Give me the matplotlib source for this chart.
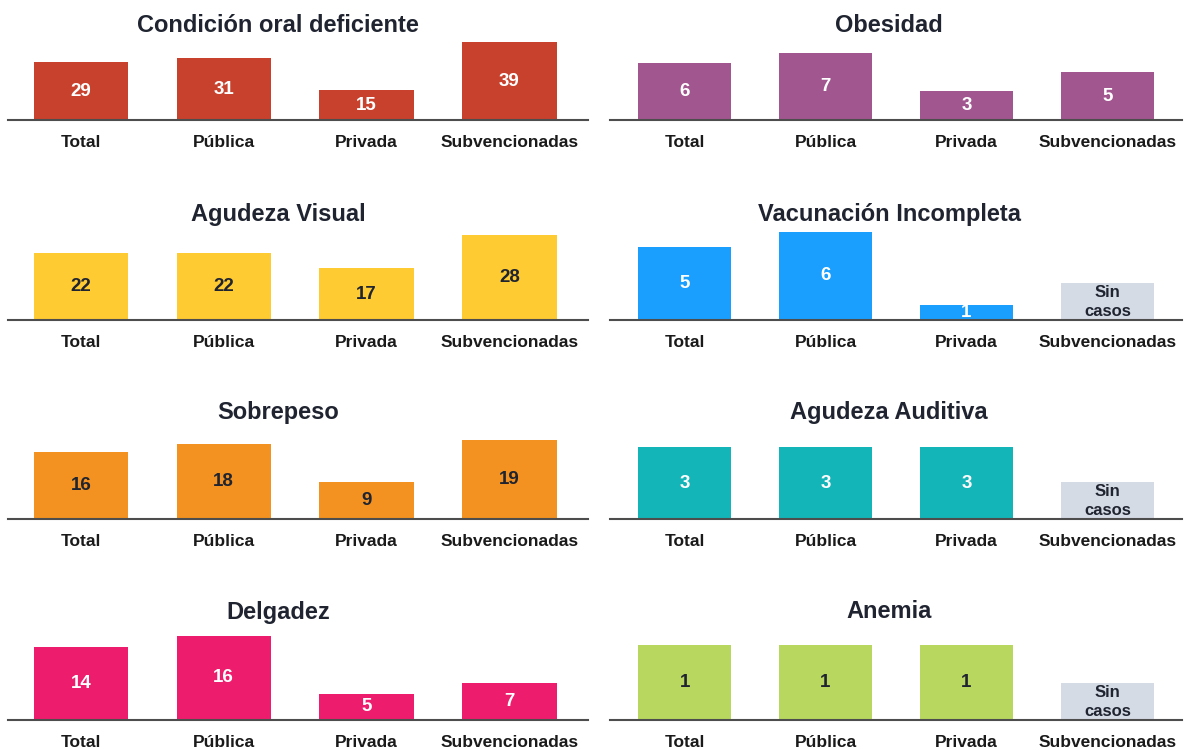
import matplotlib
matplotlib.use("Agg")
import matplotlib.pyplot as plt

plt.rcParams['font.family'] = ['Liberation Sans', 'DejaVu Sans']

# datos
categorias = ["Total", "Pública", "Privada", "Subvencionadas"]
titulos = ["Condición oral deficiente", "Obesidad",
           "Agudeza Visual", "Vacunación Incompleta",
           "Sobrepeso", "Agudeza Auditiva",
           "Delgadez", "Anemia"]
oral = [29, 31, 15, 39]
obesidad = [6, 7, 3, 5]
visual = [22, 22, 17, 28]
vacunacion = [5, 6, 1, None]
sobrepeso = [16, 18, 9, 19]
auditiva = [3, 3, 3, None]
delgadez = [14, 16, 5, 7]
anemia = [1, 1, 1, None]
series = [oral, obesidad, visual, vacunacion, sobrepeso, auditiva, delgadez, anemia]

colores = ["#C8412D", "#A2568F", "#FFCB33", "#1A9FFF",
           "#F39220", "#14B5B8", "#EE1C6C", "#B8D75E"]
color_texto = ["white", "white", "#1f2430", "white",
               "#1f2430", "white", "white", "#1f2430"]
gris = "#D5DBE5"

# alto en px de la barra mas alta de cada panel
alto_max = [78, 67, 85, 88, 79, 72, 84, 75]

W, H = 1185, 750
fig = plt.figure(figsize=(W / 100, H / 100), dpi=100)

base_y = [120, 320, 519, 720]
titulo_y = [25, 214, 413, 612]
col_x = [(8, 588, -0.51, 3.55, 278), (610, 1182, -0.53, 3.53, 889)]
alto_ax = 92

for i, vals in enumerate(series):
    fila, col = i // 2, i % 2
    x0, x1, xl, xr, tx = col_x[col]
    ax = fig.add_axes([x0 / W, 1 - base_y[fila] / H, (x1 - x0) / W, alto_ax / H])
    nums = [v for v in vals if v is not None]
    vmax = max(nums)
    ytop = vmax * alto_ax / alto_max[i]
    pos = range(len(categorias))
    for p, v in zip(pos, vals):
        if v is None:
            h = ytop * 37 / alto_ax
            ax.bar(p, h, width=0.66, color=gris)
            ax.text(p, h * 0.48, "Sin\ncasos", ha="center", va="center",
                    fontsize=12, fontweight="bold", color="#1f2430",
                    linespacing=1.3)
        else:
            ax.bar(p, v, width=0.66, color=colores[i])
            ax.text(p, v / 2, str(v), ha="center", va="center",
                    fontsize=13.5, fontweight="bold", color=color_texto[i])
    ax.set_xlim(xl, xr)
    ax.set_ylim(0, ytop)
    ax.set_xticks(list(pos))
    ax.set_xticklabels(categorias, fontsize=12.5, fontweight="bold", color="#1a1a1a")
    ax.tick_params(axis="x", length=0, pad=10.5)
    ax.set_yticks([])
    for s in ["top", "left", "right"]:
        ax.spines[s].set_visible(False)
    ax.spines["bottom"].set_color("#4d4d4d")
    ax.spines["bottom"].set_linewidth(1.5)
    fig.text(tx / W, 1 - titulo_y[fila] / H, titulos[i], ha="center", va="center",
             fontsize=17, fontweight="bold", color="#1f2430")

fig.savefig("out.png", dpi=100)
